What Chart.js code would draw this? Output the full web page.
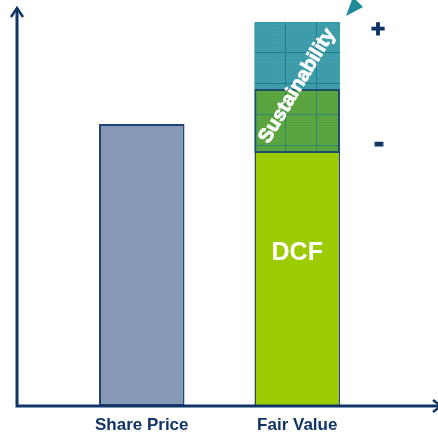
<!DOCTYPE html>
<html>
<head>
<meta charset="utf-8">
<script src="https://cdn.jsdelivr.net/npm/chart.js@4"></script>
<style>
  html, body { margin: 0; padding: 0; background: #fff; }
  #wrap { width: 438px; height: 434px; }
</style>
</head>
<body>
<div id="wrap"><canvas id="myChart"></canvas></div>
<script>
const categories = ['Share Price', 'Fair Value'];
const sharePrice = [70.5, null];
const dcfValue = [null, 63.25];
const sustainabilityRange = [null, [63.25, 96]];
const downsideRange = [null, [63.25, 79.25]];

const navy = '#0f3466';

// hatched fill: flat colour, fine dot texture and a coarse grid
function makePattern(base, dot, line) {
  const c = document.createElement('canvas');
  c.width = 31; c.height = 31;
  const g = c.getContext('2d');
  g.fillStyle = base; g.fillRect(0, 0, 31, 31);
  g.fillStyle = dot;
  for (let y = 0; y < 31; y += 2)
    for (let x = (y / 2) % 2; x < 31; x += 2) g.fillRect(x, y, 1, 1);
  g.fillStyle = line;
  g.fillRect(6, 0, 1, 31);
  g.fillRect(0, 21, 31, 1);
  return g.createPattern(c, 'repeat');
}

const tealFill = makePattern('#3a9aa8', '#45a2ae', '#1d7c8c');
const greenFill = makePattern('#57a23c', '#62aa45', '#2a8670');

const decor = {
  id: 'decor',
  afterDatasetsDraw(chart) {
    const { ctx, scales: { x, y } } = chart;
    const x0 = 17, yBase = y.getPixelForValue(0);
    ctx.save();
    // axes
    ctx.strokeStyle = navy; ctx.fillStyle = navy; ctx.lineWidth = 3;
    ctx.beginPath();
    ctx.moveTo(x0, 10); ctx.lineTo(x0, yBase);
    ctx.lineTo(chart.width, yBase);
    ctx.stroke();
    ctx.lineWidth = 2.5;
    ctx.beginPath();
    ctx.moveTo(x0 - 6, 17); ctx.lineTo(x0, 8); ctx.lineTo(x0 + 6, 17);
    ctx.stroke();
    ctx.beginPath();
    ctx.moveTo(chart.width - 5, yBase - 6); ctx.lineTo(chart.width + 3, yBase); ctx.lineTo(chart.width - 5, yBase + 6);
    ctx.stroke();

    // text in the fair value bar
    const cx = x.getPixelForValue(1);
    ctx.fillStyle = '#fff'; ctx.strokeStyle = '#fff'; ctx.lineWidth = 0.8;
    ctx.textAlign = 'center'; ctx.textBaseline = 'middle';
    ctx.font = 'bold 25px "Liberation Sans", Arial, sans-serif';
    ctx.fillText('DCF', cx, y.getPixelForValue(38.2));
    ctx.save();
    ctx.translate(cx, y.getPixelForValue(80));
    ctx.rotate(-59 * Math.PI / 180);
    ctx.font = 'bold 20px "Liberation Sans", Arial, sans-serif';
    ctx.fillText('Sustainability', 0, 0);
    ctx.strokeText('Sustainability', 0, 0);
    ctx.restore();

    // arrow head at the top
    ctx.fillStyle = '#1f8a99';
    ctx.beginPath();
    ctx.moveTo(346, 16); ctx.lineTo(353, -3); ctx.lineTo(363, 7);
    ctx.closePath(); ctx.fill();

    // + / - markers
    ctx.fillStyle = navy; ctx.strokeStyle = navy; ctx.lineWidth = 1.2;
    ctx.font = 'bold 24px "Liberation Sans", Arial, sans-serif';
    ctx.fillText('+', 378, y.getPixelForValue(94));
    ctx.strokeText('+', 378, y.getPixelForValue(94));
    ctx.font = 'bold 30px "Liberation Sans", Arial, sans-serif';
    ctx.fillText('-', 379, y.getPixelForValue(65.5));
    ctx.strokeText('-', 379, y.getPixelForValue(65.5));
    ctx.restore();
  }
};

const ctx = document.getElementById('myChart').getContext('2d');
new Chart(ctx, {
  type: 'bar',
  data: {
    labels: categories,
    datasets: [
      { label: 'Share Price', data: sharePrice, backgroundColor: '#8799b4', borderColor: '#1e4478', borderWidth: 2, order: 4 },
      { label: 'DCF', data: dcfValue, backgroundColor: '#9dcb02', borderColor: '#2a4a5a', borderWidth: { left: 1.5, right: 1.5, top: 0, bottom: 0 }, order: 3 },
      { label: 'Sustainability', data: sustainabilityRange, backgroundColor: tealFill, borderWidth: 0, order: 2 },
      { label: 'Downside', data: downsideRange, backgroundColor: greenFill, borderColor: '#1f4f6a', borderWidth: 2, order: 1 }
    ]
  },
  options: {
    responsive: true,
    maintainAspectRatio: false,
    animation: false,
    layout: { padding: { left: 64, right: 63, top: 6, bottom: 0 } },
    datasets: { bar: { grouped: false, categoryPercentage: 1, barPercentage: 0.55, borderSkipped: false } },
    plugins: { legend: { display: false }, tooltip: { enabled: false } },
    scales: {
      x: {
        grid: { display: false, drawTicks: false }, border: { display: false },
        ticks: { color: navy, padding: 9, font: { family: '"Liberation Sans", Arial, sans-serif', size: 17, weight: 'bold' } },
        afterFit(scale) { scale.height = 28; }
      },
      y: { display: false, min: 0, max: 100 }
    }
  },
  plugins: [decor]
});
</script>
</body>
</html>
